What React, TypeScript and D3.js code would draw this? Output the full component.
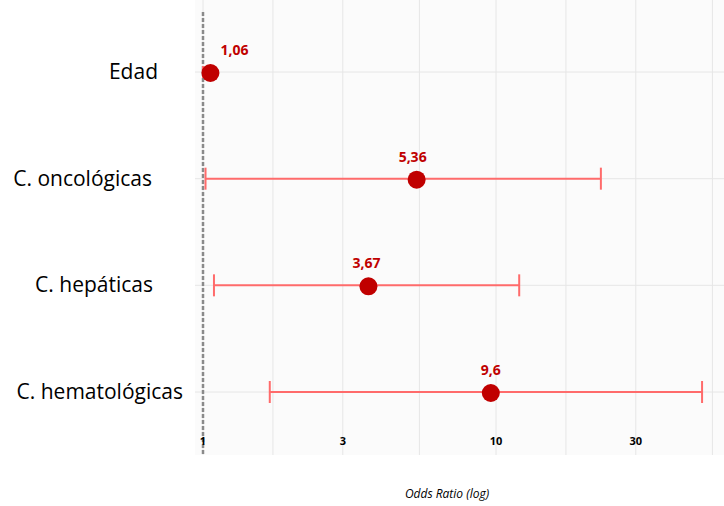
import React from "react";
import * as d3 from "d3";

const categories = ["Edad", "C. oncológicas", "C. hepáticas", "C. hematológicas"];
const oddsRatios = [1.06, 5.36, 3.67, 9.6];
const ciLower = [1.0, 1.02, 1.09, 1.69];
const ciUpper = [1.1, 22.8, 12.0, 50.5];
const valueLabels = ["1,06", "5,36", "3,67", "9,6"];
const tickValues = [1, 3, 10, 30];
const gridValues = [1, Math.sqrt(3), 3, Math.sqrt(30), 10, Math.sqrt(300), 30, Math.sqrt(3000)];

const W = 724;
const H = 506;

export default function App() {
  const x = d3.scaleLog().domain([1, 10]).range([203, 496]);
  const y = d3.scalePoint<string>().domain(categories).range([72, 392]);
  const redDark = "#c00000";
  const redLight = "#ff6b6b";
  const catRight = [158, 152, 153, 183];
  const labelDx = [24, -4, -2, 0];
  const capH = [6, 11, 11, 11];
  return (
    <svg width={W} height={H} style={{ position: "absolute", left: 0, top: 0, background: "#fff" }}
      fontFamily="'Open Sans', 'Noto Sans', sans-serif">
      <rect x={195} y={0} width={W - 195} height={455} fill="#fbfbfb" />
      {gridValues.map((g, i) => (
        <line key={"vg" + i} x1={x(g)} x2={x(g)} y1={0} y2={455} stroke="#e6e6e6" strokeWidth={1} />
      ))}
      {categories.map((c) => (
        <line key={"hg" + c} x1={195} x2={W} y1={y(c)} y2={y(c)} stroke="#e6e6e6" strokeWidth={1} />
      ))}
      <line x1={x(1)} x2={x(1)} y1={12} y2={456} stroke="#8a8a8a" strokeWidth={2.5} strokeDasharray="4,2" />
      {categories.map((c, i) => {
        const cy = y(c)!;
        return (
          <g key={c}>
            <line x1={x(ciLower[i])} x2={x(ciUpper[i])} y1={cy} y2={cy} stroke={redLight} strokeWidth={2} />
            <line x1={x(ciLower[i])} x2={x(ciLower[i])} y1={cy - capH[i]} y2={cy + capH[i]} stroke={redLight} strokeWidth={2} />
            <line x1={x(ciUpper[i])} x2={x(ciUpper[i])} y1={cy - capH[i]} y2={cy + capH[i]} stroke={redLight} strokeWidth={2} />
            <circle cx={x(oddsRatios[i])} cy={cy + 1} r={9} fill={redDark} />
            <text x={x(oddsRatios[i]) + labelDx[i]} y={cy - 17} textAnchor="middle" fontWeight="bold"
              fontSize={14} fill={redDark}>{valueLabels[i]}</text>
            <text x={catRight[i]} y={cy + 7} textAnchor="end" fontSize={21} fill="#000">{c}</text>
          </g>
        );
      })}
      {tickValues.map((t) => (
        <text key={"t" + t} x={x(t)} y={445} textAnchor="middle" fontWeight="bold" fontSize={11} fill="#000">
          {String(t)}
        </text>
      ))}
      <text x={447} y={498} textAnchor="middle" fontStyle="italic" fontSize={12} fill="#000">Odds Ratio (log)</text>
    </svg>
  );
}
